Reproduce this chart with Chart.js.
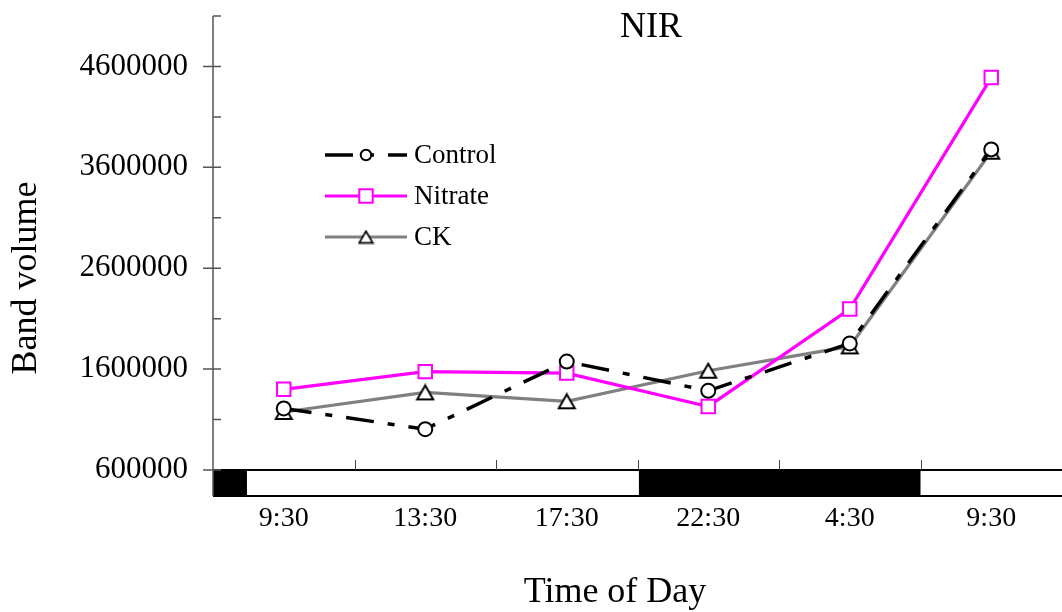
<!DOCTYPE html>
<html>
<head>
<meta charset="utf-8">
<title>NIR</title>
<script src="https://cdn.jsdelivr.net/npm/chart.js@4.4.1/dist/chart.umd.min.js"></script>
<style>
  html, body { margin: 0; padding: 0; background: #fff; }
  canvas { display: block; }
</style>
</head>
<body>
<canvas id="nirChart" width="1062" height="612"></canvas>
<script>
// data
const times = ['9:30', '13:30', '17:30', '22:30', '4:30', '9:30'];
const control = [1210000, 1005000, 1675000, 1385000, 1855000, 3778000];
const nitrate = [1400000, 1575000, 1560000, 1230000, 2195000, 4490000];
const ck = [1175000, 1369000, 1281000, 1584000, 1825000, 3755000];
const yMajorTicks = [600000, 1600000, 2600000, 3600000, 4600000];
const yMinorTicks = [1100000, 2100000, 3100000, 4100000, 5100000];
// dark periods of the light/dark bar, in category positions
const darkStart = [-0.5, 2.51];
const darkEnd = [-0.26, 4.5];

const SERIF = '"Liberation Serif", "Times New Roman", serif';

// triangle marker centred on its bounding box (like the original)
function makeTriangle(w, h, lw) {
    const c = document.createElement('canvas');
    c.width = w; c.height = h;
    const g = c.getContext('2d');
    g.beginPath();
    g.moveTo(w / 2, lw);
    g.lineTo(w - lw, h - lw);
    g.lineTo(lw, h - lw);
    g.closePath();
    g.fillStyle = '#fff';
    g.fill();
    g.lineWidth = lw;
    g.strokeStyle = '#000';
    g.lineJoin = 'miter';
    g.stroke();
    return c;
}
const triangle = makeTriangle(20, 18, 2);
const triangleSmall = makeTriangle(17, 15, 1.7);

function drawMarker(ctx, ds, x, y) {
    ctx.save();
    ctx.setLineDash([]);
    if (ds.pointStyle instanceof HTMLCanvasElement) {
        const img = triangleSmall;
        ctx.drawImage(img, x - img.width / 2, y - img.height / 2);
    } else {
        ctx.fillStyle = ds.pointBackgroundColor;
        ctx.strokeStyle = ds.pointBorderColor;
        ctx.lineWidth = ds.pointBorderWidth;
        ctx.beginPath();
        if (ds.pointStyle === 'rect') {
            const s = ds.pointRadius * Math.SQRT1_2;
            ctx.rect(x - s, y - s, 2 * s, 2 * s);
        } else {
            ctx.arc(x, y, ds.pointRadius * 0.75, 0, Math.PI * 2);
        }
        ctx.fill();
        ctx.stroke();
    }
    ctx.restore();
}

const decor = {
    id: 'decor',
    afterDraw(chart) {
        const { ctx, chartArea: a, scales: { x, y } } = chart;
        const barTop = a.bottom;
        const barBot = a.bottom + 26;
        ctx.save();

        // light / dark bar
        ctx.fillStyle = '#000';
        darkStart.forEach((s, i) => {
            const x0 = x.getPixelForValue(s);
            const x1 = x.getPixelForValue(darkEnd[i]);
            ctx.fillRect(x0, barTop, x1 - x0, barBot - barTop);
        });
        ctx.strokeStyle = '#000';
        ctx.lineWidth = 2;
        ctx.beginPath();
        ctx.moveTo(a.left, barTop); ctx.lineTo(a.right, barTop);
        ctx.moveTo(a.left, barBot); ctx.lineTo(a.right, barBot);
        ctx.stroke();

        // x tick marks between categories, pointing up
        ctx.strokeStyle = '#444';
        ctx.lineWidth = 1;
        ctx.beginPath();
        for (let i = 0; i < times.length - 1; i++) {
            const px = Math.round(x.getPixelForValue(i + 0.5)) + 0.5;
            ctx.moveTo(px, barTop);
            ctx.lineTo(px, barTop - 10);
        }
        ctx.stroke();

        // y axis line and ticks
        const ax = a.left;
        ctx.strokeStyle = '#555';
        ctx.lineWidth = 1.5;
        ctx.beginPath();
        ctx.moveTo(ax, a.top); ctx.lineTo(ax, barBot);
        yMajorTicks.forEach(v => {
            const py = y.getPixelForValue(v);
            ctx.moveTo(ax - 10, py); ctx.lineTo(ax + 8, py);
        });
        yMinorTicks.forEach(v => {
            const py = y.getPixelForValue(v);
            ctx.moveTo(ax, py); ctx.lineTo(ax + 8, py);
        });
        ctx.stroke();

        // titles
        ctx.fillStyle = '#000';
        ctx.textAlign = 'center';
        ctx.textBaseline = 'alphabetic';
        ctx.font = '36px ' + SERIF;
        ctx.fillText('NIR', 651, 37);
        ctx.fillText('Time of Day', 615, 602);
        ctx.save();
        ctx.translate(36, 278);
        ctx.rotate(-Math.PI / 2);
        ctx.fillText('Band volume', 0, 0);
        ctx.restore();

        // legend
        const rows = [155, 196, 237];
        chart.data.datasets.forEach((ds, i) => {
            const ly = rows[i];
            ctx.save();
            ctx.strokeStyle = ds.borderColor;
            ctx.lineWidth = ds.borderWidth;
            ctx.setLineDash(ds.borderDash || []);
            ctx.beginPath();
            ctx.moveTo(325, ly); ctx.lineTo(407, ly);
            ctx.stroke();
            ctx.restore();
            drawMarker(ctx, ds, 366, ly);
            ctx.fillStyle = '#000';
            ctx.textAlign = 'left';
            ctx.textBaseline = 'middle';
            ctx.font = '27px ' + SERIF;
            ctx.fillText(ds.label, 414, ly + 1);
        });

        ctx.restore();
    }
};

new Chart(document.getElementById('nirChart'), {
    type: 'line',
    data: {
        labels: times,
        datasets: [
            {
                label: 'Control',
                data: control,
                borderColor: '#000',
                borderWidth: 3.5,
                borderDash: [28, 14, 7, 14],
                pointStyle: 'circle',
                pointRadius: 7,
                pointBorderWidth: 2,
                pointBorderColor: '#000',
                pointBackgroundColor: '#fff',
                tension: 0
            },
            {
                label: 'Nitrate',
                data: nitrate,
                borderColor: '#ff00ff',
                borderWidth: 3.2,
                pointStyle: 'rect',
                pointRadius: 9.5,
                pointBorderWidth: 2,
                pointBorderColor: '#ff00ff',
                pointBackgroundColor: '#fff',
                tension: 0
            },
            {
                label: 'CK',
                data: ck,
                borderColor: '#808080',
                borderWidth: 3.2,
                pointStyle: triangle,
                pointRadius: 10,
                pointBorderWidth: 2,
                pointBorderColor: '#000',
                pointBackgroundColor: '#fff',
                tension: 0
            }
        ]
    },
    options: {
        responsive: false,
        animation: false,
        layout: { autoPadding: false, padding: { top: 16, left: 0, right: 0, bottom: 0 } },
        plugins: {
            legend: { display: false },
            tooltip: { enabled: false },
            title: { display: false }
        },
        scales: {
            x: {
                offset: true,
                afterFit: s => { s.height = 142; s.paddingLeft = 0; s.paddingRight = 0; },
                grid: { display: false, drawTicks: false },
                border: { display: false },
                ticks: {
                    font: { family: SERIF, size: 28 },
                    color: '#000',
                    padding: 32,
                    maxRotation: 0,
                    autoSkip: false
                }
            },
            y: {
                min: 600000,
                max: 5100000,
                afterBuildTicks: s => { s.ticks = yMajorTicks.map(v => ({ value: v })); },
                afterFit: s => { s.width = 213; s.paddingTop = 0; s.paddingBottom = 0; },
                grid: { display: false, drawTicks: false },
                border: { display: false },
                ticks: {
                    font: { family: SERIF, size: 31 },
                    color: '#000',
                    padding: 25,
                    callback: v => String(v)
                }
            }
        }
    },
    plugins: [decor]
});
</script>
</body>
</html>
